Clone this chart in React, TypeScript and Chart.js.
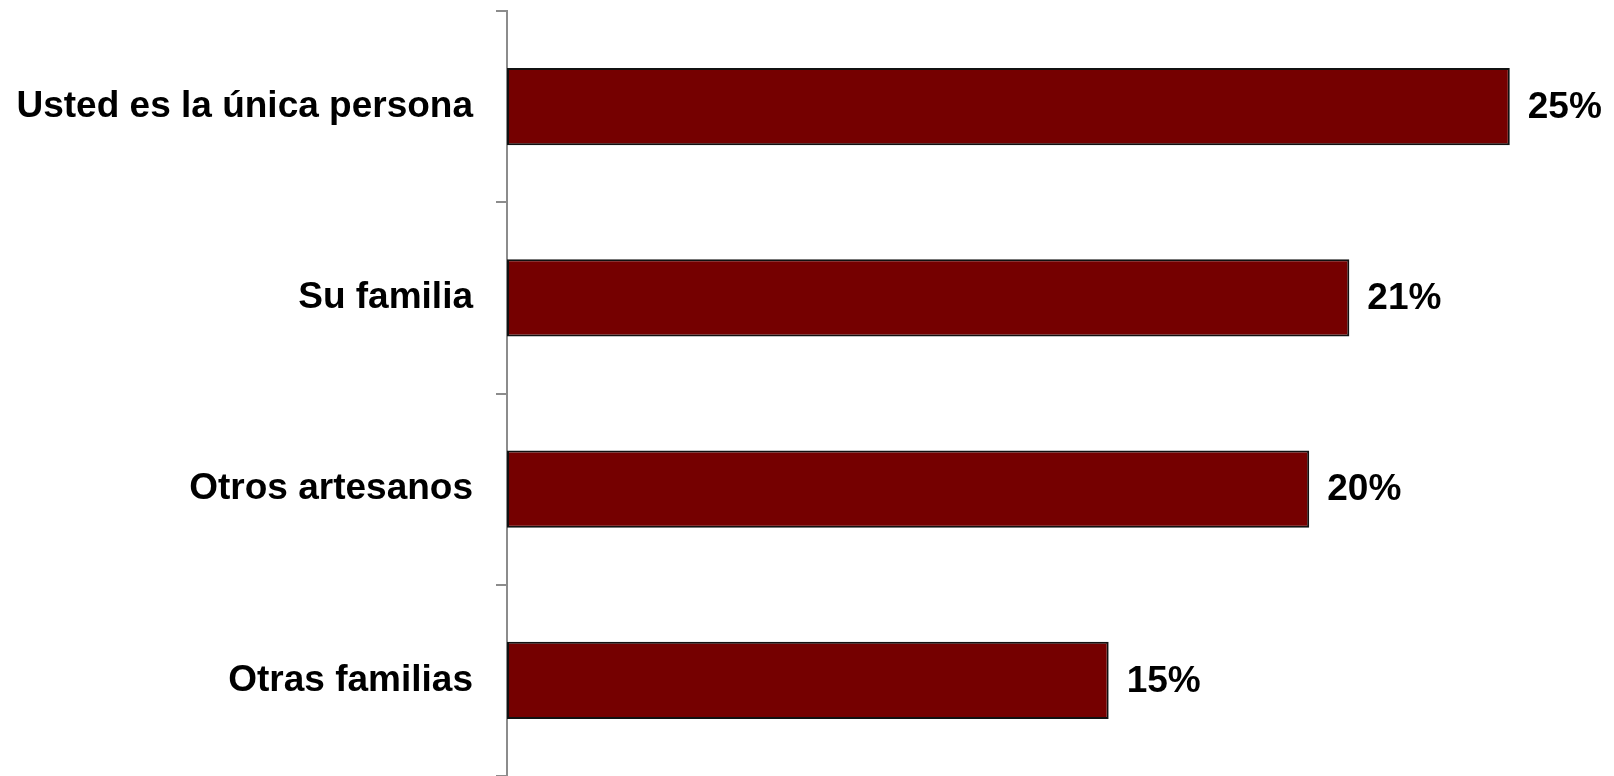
import React, { useEffect, useRef } from "react";
import { Chart, registerables } from "chart.js";

Chart.register(...registerables);

const categories = ["Usted es la única persona", "Su familia", "Otros artesanos", "Otras familias"];
const values = [25, 21, 20, 15];
const valueLabels = ["25%", "21%", "20%", "15%"];

const FONT = '"Liberation Sans", Arial, sans-serif';

const valueLabelPlugin = {
  id: "valueLabels",
  afterDatasetsDraw(chart: any) {
    const ctx = chart.ctx;
    const meta = chart.getDatasetMeta(0);
    ctx.save();
    ctx.font = `bold 37px ${FONT}`;
    ctx.fillStyle = "#000";
    ctx.textAlign = "left";
    ctx.textBaseline = "middle";
    meta.data.forEach((bar: any, i: number) => {
      ctx.fillText(valueLabels[i], bar.x + 18, bar.y + 1);
    });
    ctx.restore();
  },
};

export default function App() {
  const ref = useRef<HTMLCanvasElement | null>(null);
  useEffect(() => {
    if (!ref.current) return;
    const chart = new Chart(ref.current, {
      type: "bar",
      data: {
        labels: categories,
        datasets: [
          {
            data: values,
            backgroundColor: "#750000",
            borderColor: "#111",
            borderWidth: 2,
            borderSkipped: false,
            categoryPercentage: 1,
            barPercentage: 0.405,
          },
        ],
      },
      options: {
        indexAxis: "y",
        animation: false,
        responsive: false,
        layout: { padding: { top: 11, bottom: 0, left: 0, right: 24 } },
        plugins: { legend: { display: false }, tooltip: { enabled: false } },
        scales: {
          x: { display: false, min: 0, max: 27 },
          y: {
            afterFit: (scale: any) => {
              scale.width = 507;
              scale.paddingTop = 0;
              scale.paddingBottom = 0;
            },
            border: { display: true, color: "#8c8c8c", width: 2 },
            grid: {
              offset: true,
              drawOnChartArea: false,
              drawTicks: true,
              tickLength: 11,
              color: "#8c8c8c",
              lineWidth: 2,
            },
            ticks: {
              color: "#000",
              padding: 23,
              font: { family: FONT, size: 37, weight: "bold" },
            },
          },
        },
      },
      plugins: [valueLabelPlugin],
    });
    return () => chart.destroy();
  }, []);
  return (
    <div style={{ position: "absolute", left: 0, top: 0, width: 1614, height: 776, background: "#fff" }}>
      <canvas ref={ref} width={1614} height={776} style={{ width: 1614, height: 776, display: "block" }} />
    </div>
  );
}
